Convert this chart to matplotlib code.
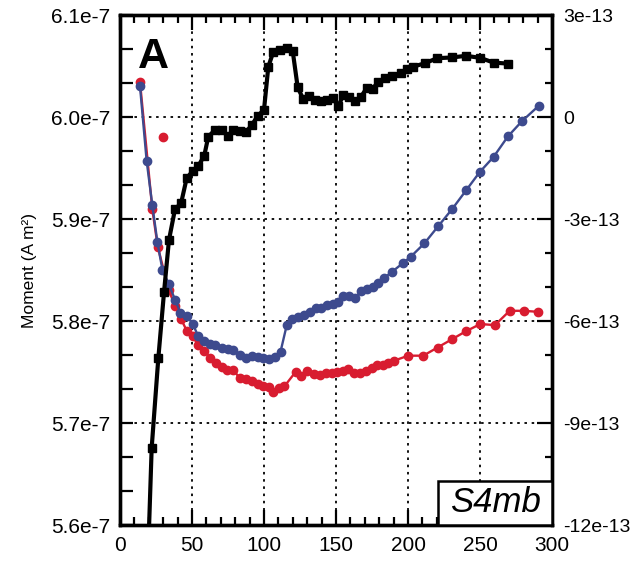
import numpy as np
import matplotlib
matplotlib.use("Agg")
import matplotlib.pyplot as plt
from matplotlib.ticker import FixedLocator, MultipleLocator
from matplotlib.patches import Rectangle

plt.rcParams['font.family'] = ['Liberation Sans', 'DejaVu Sans']

# ---- data (moment in units of 1e-7 A m^2 for left axis, 1e-13 for right) ----
blue_x = [13.9, 18.5, 22.4, 26.0, 29.5, 33.9, 38.2, 42.0, 46.5, 50.5, 54.4, 58.5,
          62.5, 66.3, 70.6, 74.7, 78.7, 83.1, 87.5, 91.5, 95.5, 99.5, 103.3, 107.5,
          111.5, 115.8, 119.2, 123.8, 127.8, 131.7, 136.0, 139.7, 143.5, 147.7,
          151.3, 155.1, 159.2, 163.2, 167.5, 171.3, 175.5, 179.4, 183.3, 188.7,
          196.7, 201.9, 211.3, 221.0, 230.8, 240.3, 249.8, 259.5, 269.4, 279.2, 290.8]
blue_y = [6.030, 5.957, 5.914, 5.877, 5.850, 5.836, 5.821, 5.808, 5.805, 5.797,
          5.785, 5.780, 5.777, 5.776, 5.774, 5.773, 5.772, 5.767, 5.764, 5.766,
          5.765, 5.764, 5.763, 5.765, 5.770, 5.796, 5.802, 5.804, 5.806, 5.809,
          5.813, 5.813, 5.816, 5.817, 5.819, 5.825, 5.825, 5.823, 5.829, 5.831,
          5.833, 5.837, 5.842, 5.848, 5.857, 5.863, 5.876, 5.893, 5.910, 5.928,
          5.946, 5.961, 5.981, 5.996, 6.011]

red_x = [13.9, 22.4, 26.2, 33.9, 38.2, 42.4, 46.5, 50.5, 54.4, 58.5, 62.5, 66.7,
         70.6, 74.3, 78.7, 83.1, 87.2, 91.5, 95.5, 99.5, 103.3, 106.5, 110.3, 114.2,
         121.9, 125.8, 130.2, 134.7, 138.9, 143.1, 147.4, 151.0, 154.9, 158.5,
         162.5, 166.7, 170.8, 174.8, 178.5, 182.4, 186.3, 190.1, 200.2, 210.6,
         220.5, 230.4, 240.3, 250.2, 260.4, 270.6, 280.3, 290.3]
red_y = [6.034, 5.910, 5.873, 5.830, 5.815, 5.802, 5.790, 5.785, 5.776, 5.771,
         5.764, 5.759, 5.755, 5.752, 5.752, 5.744, 5.743, 5.741, 5.738, 5.736,
         5.735, 5.730, 5.734, 5.736, 5.750, 5.746, 5.751, 5.748, 5.747, 5.749,
         5.749, 5.750, 5.751, 5.753, 5.749, 5.749, 5.751, 5.754, 5.757, 5.757,
         5.759, 5.761, 5.766, 5.766, 5.774, 5.782, 5.790, 5.797, 5.796, 5.810,
         5.810, 5.809]

red_outlier_x = [30.2]
red_outlier_y = [5.980]

black_x = [18.5, 22.0, 26.6, 30.6, 34.0, 38.2, 42.4, 46.3, 50.5, 54.4, 58.5, 61.3,
           66.0, 70.6, 74.8, 78.7, 83.3, 87.5, 91.5, 95.6, 100.0, 103.0, 106.5,
           111.1, 115.8, 119.9, 123.4, 127.3, 131.5, 135.4, 139.6, 143.5, 147.7,
           151.6, 155.1, 159.2, 163.2, 167.4, 171.5, 175.5, 179.4, 184.0, 188.7,
           194.8, 199.3, 203.7, 211.6, 220.3, 230.3, 240.3, 250.0, 259.5, 269.4]
black_y = [-14.2, -9.73, -7.10, -5.14, -3.62, -2.71, -2.54, -1.80, -1.59, -1.44,
           -1.14, -0.58, -0.38, -0.38, -0.56, -0.38, -0.40, -0.44, -0.24, 0.03,
           0.21, 1.48, 1.92, 1.97, 2.02, 1.95, 0.87, 0.52, 0.62, 0.50, 0.47, 0.51,
           0.57, 0.31, 0.66, 0.59, 0.46, 0.60, 0.86, 0.83, 1.04, 1.14, 1.20, 1.30,
           1.40, 1.48, 1.58, 1.73, 1.75, 1.80, 1.74, 1.60, 1.57]

left_ticks = [5.6, 5.7, 5.8, 5.9, 6.0, 6.1]
left_labels = ['5.6e-7', '5.7e-7', '5.8e-7', '5.9e-7', '6.0e-7', '6.1e-7']
right_ticks = [-12, -9, -6, -3, 0, 3]
right_labels = ['-12e-13', '-9e-13', '-6e-13', '-3e-13', '0', '3e-13']
x_ticks = [0, 50, 100, 150, 200, 250, 300]

BLUE = '#3d4a8e'
RED = '#d81c30'

fig = plt.figure(figsize=(6.31, 5.62), dpi=100)
ax = fig.add_axes([120/631, 1-525/562, 432/631, 510/562])
ax2 = ax.twinx()

ax.plot(red_x, np.array(red_y)*1e-7, '-o', color=RED, lw=1.7, ms=6, zorder=3)
ax.plot(red_outlier_x, np.array(red_outlier_y)*1e-7, 'o', color=RED, ms=6, zorder=3)
ax.plot(blue_x, np.array(blue_y)*1e-7, '-o', color=BLUE, lw=1.7, ms=6, zorder=4)
ax2.plot(black_x, np.array(black_y)*1e-13, '-s', color='black', lw=3.0, ms=6, zorder=5)

ax.set_xlim(0, 300)
ax.set_ylim(5.6e-7, 6.1e-7)
ax2.set_ylim(-12e-13, 3e-13)

ax.xaxis.set_major_locator(FixedLocator(x_ticks))
ax.xaxis.set_minor_locator(MultipleLocator(10))
ax.set_xticklabels([str(t) for t in x_ticks])

ax.yaxis.set_major_locator(FixedLocator(np.array(left_ticks)*1e-7))
ax.yaxis.set_minor_locator(FixedLocator(np.linspace(5.6e-7, 6.1e-7, 16)))
ax.set_yticklabels(left_labels)

ax2.yaxis.set_major_locator(FixedLocator(np.array(right_ticks)*1e-13))
ax2.yaxis.set_minor_locator(FixedLocator(np.linspace(-12e-13, 3e-13, 16)))
ax2.set_yticklabels(right_labels)

ax.grid(True, which='major', color='black', linestyle=(0, (1.4, 2.6)), linewidth=1.3)

ax.tick_params(axis='x', which='both', direction='in', top=True, bottom=True,
               labelsize=15, width=1.6, pad=8)
ax.tick_params(axis='x', which='major', length=10.5)
ax.tick_params(axis='x', which='minor', length=5.8)
ax.tick_params(axis='y', which='both', direction='in', left=True, right=False,
               labelsize=15, width=1.6, length=9.5, pad=7)
ax2.tick_params(axis='y', which='both', direction='in', labelsize=14, width=1.6, pad=8)
ax2.tick_params(axis='y', which='major', length=10.5)
ax2.tick_params(axis='y', which='minor', length=5)

for a in (ax, ax2):
    for s in a.spines.values():
        s.set_linewidth(2.4)

ax.set_ylabel('Moment (A m²)', fontsize=12.5, labelpad=10)

ax.text(0.042, 0.896, 'A', transform=ax.transAxes, fontsize=31, fontweight='bold',
        ha='left', va='baseline')

box = Rectangle((0.737, 0.0), 0.263, 0.087, transform=ax2.transAxes,
                facecolor='white', edgecolor='black', linewidth=1.8, zorder=10,
                clip_on=False)
ax2.add_patch(box)
ax2.text(0.737 + 0.263/2, 0.087/2, 'S4mb', transform=ax2.transAxes, fontsize=25,
         fontstyle='italic', ha='center', va='center', zorder=11)

fig.savefig('out.png', dpi=100)
